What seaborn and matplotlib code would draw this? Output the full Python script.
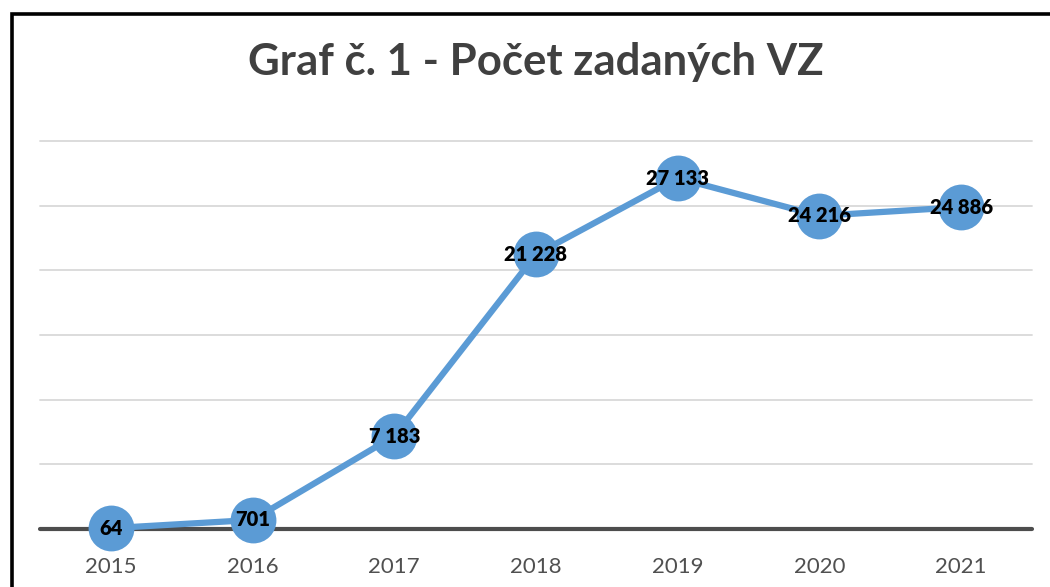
import matplotlib
matplotlib.use("Agg")
import matplotlib.pyplot as plt
from matplotlib.patches import Rectangle
import pandas as pd
import seaborn as sns

years = ["2015", "2016", "2017", "2018", "2019", "2020", "2021"]
counts = [64, 701, 7183, 21228, 27133, 24216, 24886]
labels = ["64", "701", "7 183", "21 228", "27 133", "24 216", "24 886"]
y_ticks = [0, 5000, 10000, 15000, 20000, 25000, 30000]

sns.set_style("white")
plt.rcParams["font.family"] = ["Lato", "DejaVu Sans"]

df = pd.DataFrame({"pos": range(len(years)), "count": counts})

fig = plt.figure(figsize=(10.5, 5.87), dpi=100)
ax = fig.add_axes([40 / 1050, 1 - 529 / 587, 992 / 1050, 388 / 587])

for y in y_ticks[1:]:
    ax.axhline(y, color="#d9d9d9", lw=1.3, zorder=0)
ax.axhline(0, color="#4d4d4d", lw=3, zorder=1)

sns.lineplot(data=df, x="pos", y="count", ax=ax, color="#5b9bd5", lw=4.5,
             marker="o", markersize=33, markeredgewidth=0, zorder=3)
for ln in ax.lines:
    ln.set_clip_on(False)

for i, (v, txt) in enumerate(zip(counts, labels)):
    ax.text(i, v, txt, ha="center", va="center", fontsize=14.5, fontweight="heavy",
            color="black", zorder=4)

ax.set_xlim(-0.5, len(years) - 0.5)
ax.set_ylim(0, 30000)
ax.set_xticks(range(len(years)))
ax.set_xticklabels(years, fontsize=16, color="#505050")
ax.tick_params(axis="x", length=0, pad=20)
ax.set_yticks([])
ax.set_xlabel("")
ax.set_ylabel("")
for s in ax.spines.values():
    s.set_visible(False)

fig.text(536 / 1050, 1 - 62 / 587, "Graf č. 1 - Počet zadaných VZ", ha="center", va="center",
         fontsize=31.5, fontweight="bold", color="#404040")

fig.patches.append(Rectangle((11.5 / 1050, -0.2), 2, 1.2 - 13.5 / 587,
                             transform=fig.transFigure, fill=False, lw=2.6,
                             ec="black", zorder=10))

fig.savefig("out.png", dpi=100)
